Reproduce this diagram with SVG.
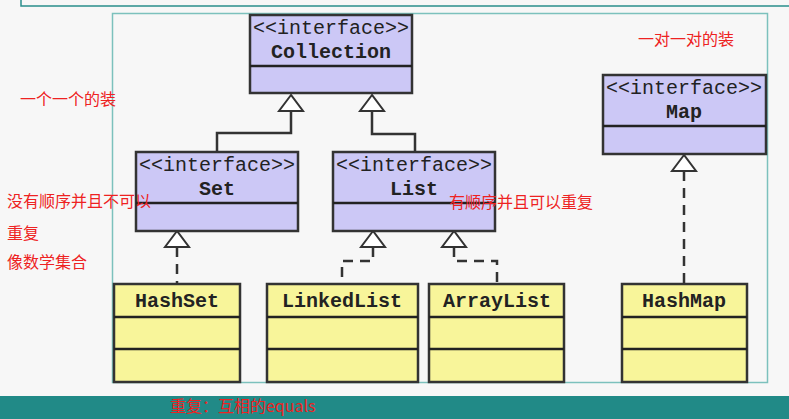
<svg xmlns="http://www.w3.org/2000/svg" width="789" height="419" viewBox="0 0 789 419">
<style>
.i{fill:#ccc8f6;stroke:#333;stroke-width:2.5}
.c{fill:#f8f59a;stroke:#333;stroke-width:2.5}
.d{stroke:#222;stroke-width:2.5;fill:none}
.t{font-family:"Liberation Mono",monospace;font-size:20px;fill:#222;text-anchor:middle}
.b{font-weight:bold}
.r{font-family:"Noto Sans CJK SC",sans-serif;font-size:16px;fill:#ee2222}
.ln{stroke:#333;stroke-width:2.5;fill:none}
.ds{stroke:#333;stroke-width:2.5;fill:none;stroke-dasharray:10,7}
.tri{fill:#fff;stroke:#333;stroke-width:2}
</style>
<rect width="789" height="419" fill="#f7f7f7"/>
<path d="M21 0V6H789" stroke="#2a8f8c" stroke-width="1.5" fill="none"/>
<rect x="112.5" y="13.5" width="655" height="369" fill="none" stroke="#7cc1bd" stroke-width="1.5"/>
<rect x="0" y="396" width="789" height="23" fill="#218a87"/>
<g id="connectors">
<path class="ln" d="M291 111V133H217V153"/>
<path class="ln" d="M372 111V134H415V153"/>
<path class="ds" d="M177 247V284"/>
<path class="ds" d="M373 247V261H342V284"/>
<path class="ds" d="M454 247V261H497V284"/>
<path class="ds" d="M684 171V284"/>
<path class="tri" d="M291 95L279 111H303Z"/>
<path class="tri" d="M372 95L360 111H384Z"/>
<path class="tri" d="M177 231L165 247H189Z"/>
<path class="tri" d="M373 231L361 247H385Z"/>
<path class="tri" d="M454 231L442 247H466Z"/>
<path class="tri" d="M684 155L672 171H696Z"/>
</g>
<g id="Collection"><rect class="i" x="250" y="15" width="162" height="78"/><path class="d" d="M250 66H412"/><text class="t" x="331" y="34">&lt;&lt;interface&gt;&gt;</text><text class="t b" x="331" y="58">Collection</text></g>
<g id="Set"><rect class="i" x="136" y="152" width="162" height="79"/><path class="d" d="M136 203H298"/><text class="t" x="217" y="171">&lt;&lt;interface&gt;&gt;</text><text class="t b" x="217" y="195">Set</text></g>
<g id="List"><rect class="i" x="333" y="152" width="162" height="79"/><path class="d" d="M333 203H495"/><text class="t" x="414" y="171">&lt;&lt;interface&gt;&gt;</text><text class="t b" x="414" y="195">List</text></g>
<g id="Map"><rect class="i" x="603" y="75" width="163" height="79"/><path class="d" d="M603 126H766"/><text class="t" x="684" y="94">&lt;&lt;interface&gt;&gt;</text><text class="t b" x="684" y="118">Map</text></g>
<g id="HashSet"><rect class="c" x="114" y="284" width="126" height="98"/><path class="d" d="M114 317H240M114 349H240"/><text class="t b" x="177" y="307">HashSet</text></g>
<g id="LinkedList"><rect class="c" x="267" y="284" width="151" height="98"/><path class="d" d="M267 317H418M267 349H418"/><text class="t b" x="342" y="307">LinkedList</text></g>
<g id="ArrayList"><rect class="c" x="429" y="284" width="135" height="98"/><path class="d" d="M429 317H564M429 349H564"/><text class="t b" x="497" y="307">ArrayList</text></g>
<g id="HashMap"><rect class="c" x="622" y="284" width="125" height="98"/><path class="d" d="M622 317H747M622 349H747"/><text class="t b" x="684" y="307">HashMap</text></g>
<text class="r" x="20" y="105">一个一个的装</text>
<text class="r" x="638" y="45">一对一对的装</text>
<text class="r" x="7" y="207">没有顺序并且不可以</text>
<text class="r" x="7" y="239">重复</text>
<text class="r" x="7" y="268">像数学集合</text>
<text class="r" x="449" y="208">有顺序并且可以重复</text>
<text class="r" x="170" y="412">重复：互相的equals</text>
</svg>
